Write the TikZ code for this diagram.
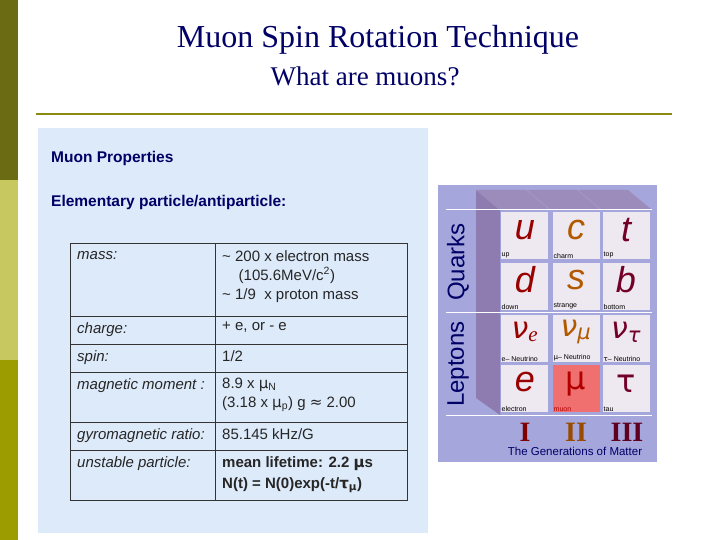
\documentclass[tikz,border=0pt]{standalone}
\usepackage{fontspec}
\setmainfont{Liberation Serif}
\setsansfont{Liberation Sans}
\newfontfamily\dv{DejaVu Sans}
\definecolor{panel}{HTML}{DDEAFA}
\definecolor{gbg}{HTML}{A4A6DC}
\definecolor{side}{HTML}{8E7CB0}
\definecolor{topf}{HTML}{9C8CBC}
\definecolor{cell}{HTML}{EEE8F0}
\definecolor{barA}{HTML}{6B6B14}
\definecolor{barB}{HTML}{C8C860}
\definecolor{barC}{HTML}{9C9C00}
\definecolor{rule}{HTML}{8A8A10}
\definecolor{muon}{HTML}{F07070}
\begin{document}
\begin{tikzpicture}[x=1pt,y=-1pt,
  lab/.style={font=\sffamily\itshape\fontsize{15}{17}\selectfont,anchor=north west,inner sep=0pt,text=black!85},
  val/.style={font=\sffamily\fontsize{15}{17}\selectfont,anchor=north west,inner sep=0pt,align=left,text=black!85},
  big/.style={font=\sffamily\itshape\fontsize{36}{36}\selectfont},
  gk/.style={font=\fontsize{32}{32}\selectfont},
  small/.style={font=\sffamily\fontsize{7}{7}\selectfont,anchor=south west,inner sep=0.5pt},
  roman/.style={font=\bfseries\fontsize{28}{28}\selectfont}]
\useasboundingbox (0,0) rectangle (720,540);
\fill[white] (0,0) rectangle (720,540);
\fill[barA] (0,0) rectangle (18,180);
\fill[barB] (0,180) rectangle (18,360);
\fill[barC] (0,360) rectangle (18,540);
\node[font=\fontsize{32}{34}\selectfont,text=blue!40!black] (title) at (378,40) {Muon Spin Rotation Technique};
\node[font=\fontsize{27}{30}\selectfont,text=blue!40!black] (sub) at (365,76) {What are muons?};
\draw[rule,line width=1.5pt] (36,114) -- (672,114);
% panel
\fill[panel] (38,128) rectangle (428,533);
\node[font=\sffamily\bfseries\fontsize{15.5}{17}\selectfont,text=blue!40!black,anchor=west,inner sep=0pt] (mp) at (51,158) {Muon Properties};
\node[font=\sffamily\bfseries\fontsize{15.5}{17}\selectfont,text=blue!40!black,anchor=west,inner sep=0pt] (ep) at (51,202) {Elementary particle/antiparticle:};
\draw[black!80,line width=0.8pt] (70,243) rectangle (407,500);
\foreach \y in {316,344,372,422,450} \draw[black!80,line width=0.8pt] (70,\y) -- (407,\y);
\draw[black!80,line width=0.8pt] (215,243) -- (215,500);
\node[lab] (l1) at (77,251) {mass:};
\node[lab] (l2) at (77,322) {charge:};
\node[lab] (l3) at (77,350) {spin:};
\node[lab] (l4) at (77,378) {magnetic moment :};
\node[lab] (l5) at (77,428) {gyromagnetic ratio:};
\node[lab] (l6) at (77,456) {unstable particle:};
\node[val] (v1) at (222,250) {\textasciitilde\ 200 x electron mass\\[2pt]\hspace{1.1em}(105.6MeV/c\textsuperscript{2})\\[2pt]\textasciitilde\ 1/9\ \ x proton mass};
\node[val] (v2) at (222,322) {+ e, or - e};
\node[val] (v3) at (222,350) {1/2};
\node[val] (v4) at (222,378) {8.9 x {\dv μ}\textsubscript{N}\\[2pt](3.18 x {\dv μ}\textsubscript{p}) g {\dv ≈} 2.00};
\node[val] (v5) at (222,428) {85.145 kHz/G};
\node[val,font=\sffamily\bfseries\fontsize{15}{17}\selectfont] (v6) at (222,456) {mean lifetime: 2.2 {\dv μ}s\\[4pt]N(t) = N(0)exp(-t/{\dv τ}\textsubscript{{\dv μ}})};
% generations
\fill[gbg] (438,185) rectangle (657,462);
\fill[side] (476,190) -- (500,210) -- (500,415) -- (476,398) -- cycle;
\foreach \xx in {476,527,578} \fill[topf] (\xx,190) -- (\xx+50,190) -- (\xx+74,210) -- (\xx+24,210) -- cycle;
\foreach \xx in {501,553,603} \foreach \yy in {212,263,315,365} \fill[cell] (\xx,\yy) rectangle (\xx+47,\yy+47);
\fill[muon] (553,365) rectangle (600,412);
\foreach \yy in {210,312,415} \draw[white,line width=1pt] (446,\yy) -- (652,\yy);
\node[rotate=90,font=\sffamily\fontsize{24}{24}\selectfont,text=blue!40!black] (q) at (458,262) {Quarks};
\node[rotate=90,font=\sffamily\fontsize{24}{24}\selectfont,text=blue!40!black] (lp) at (458,364) {Leptons};
\node[big,text=red!60!black] (u) at (525,230) {u};
\node[big,text=orange!70!black] (c) at (576,230) {c};
\node[big,text=purple!60!black] (t) at (626,230) {t};
\node[big,text=red!60!black] (d) at (525,280) {d};
\node[big,text=orange!70!black] (s) at (576,280) {s};
\node[big,text=purple!60!black] (b) at (626,280) {b};
\node[text=red!60!black,font=\itshape\fontsize{30}{30}\selectfont] (ne) at (525,332) {{\dv ν}\textsubscript{\textit{e}}};
\node[text=orange!70!black,font=\itshape\fontsize{30}{30}\selectfont] (nm) at (576,332) {{\dv ν}\textsubscript{{\dv μ}}};
\node[text=purple!60!black,font=\itshape\fontsize{30}{30}\selectfont] (nt) at (626,332) {{\dv ν}\textsubscript{{\dv τ}}};
\node[big,text=red!60!black] (e) at (525,382) {e};
\node[gk,text=red!70!black] (m) at (576,384) {{\dv μ}};
\node[gk,text=purple!60!black] (ta) at (626,384) {{\dv τ}};
\node[small] at (501,259) {up};
\node[small] at (553,259) {charm};
\node[small] at (603,259) {top};
\node[small] at (501,310) {down};
\node[small] at (553,310) {strange};
\node[small] at (603,310) {bottom};
\node[small] at (501,362) {e-- Neutrino};
\node[small] at (553,362) {{\dv μ}-- Neutrino};
\node[small] at (603,362) {{\dv τ}-- Neutrino};
\node[small] at (501,412) {electron};
\node[small,text=red!70!black] at (553,412) {muon};
\node[small] at (603,412) {tau};
\node[roman,text=red!50!black] (r1) at (525,432) {I};
\node[roman,text=orange!60!black] (r2) at (576,432) {II};
\node[roman,text=purple!50!black] (r3) at (627,432) {III};
\node[font=\sffamily\fontsize{11.5}{12}\selectfont,text=blue!40!black] (gen) at (575,451) {The Generations of Matter};
\end{tikzpicture}
\end{document}
